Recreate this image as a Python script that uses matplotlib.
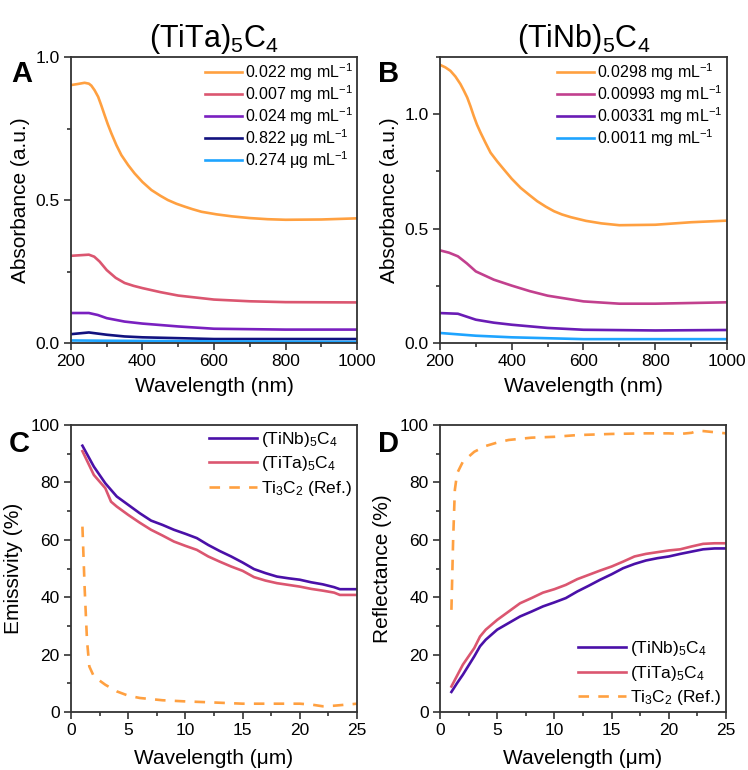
import matplotlib
matplotlib.use("Agg")
import matplotlib.pyplot as plt
from matplotlib.ticker import MultipleLocator

plt.rcParams['font.family'] = ['Liberation Sans', 'DejaVu Sans']
plt.rcParams['mathtext.fontset'] = 'custom'
plt.rcParams['mathtext.rm'] = 'Liberation Sans'
plt.rcParams['mathtext.it'] = 'Liberation Sans:italic'
plt.rcParams['mathtext.bf'] = 'Liberation Sans:bold'

# ---------------- Panel A: (TiTa)5C4 absorbance ----------------
a_orange_x = [200, 220, 238, 250, 257, 266, 276, 285, 294, 303, 313, 327, 341, 360, 378, 400, 425, 450, 471,
              495, 518, 540, 565, 607, 650, 700, 750, 800, 900, 1000]
a_orange_y = [0.902, 0.906, 0.910, 0.907, 0.900, 0.884, 0.861, 0.830, 0.797, 0.765, 0.733, 0.692, 0.657,
              0.622, 0.593, 0.563, 0.535, 0.515, 0.500, 0.487, 0.477, 0.468, 0.459, 0.450, 0.443, 0.437,
              0.433, 0.431, 0.432, 0.436]
a_red_x = [200, 225, 250, 265, 280, 300, 325, 350, 375, 400, 450, 500, 600, 700, 800, 1000]
a_red_y = [0.305, 0.307, 0.309, 0.302, 0.285, 0.255, 0.228, 0.210, 0.200, 0.192, 0.178, 0.166, 0.152,
           0.146, 0.143, 0.142]
a_purple_x = [200, 250, 275, 300, 350, 400, 500, 600, 800, 1000]
a_purple_y = [0.105, 0.105, 0.098, 0.087, 0.075, 0.068, 0.058, 0.050, 0.047, 0.047]
a_navy_x = [200, 250, 300, 350, 400, 600, 1000]
a_navy_y = [0.031, 0.037, 0.029, 0.023, 0.020, 0.014, 0.014]
a_blue_x = [200, 300, 600, 1000]
a_blue_y = [0.009, 0.008, 0.006, 0.004]
a_labels = [r'0.022 mg mL$^{-1}$', r'0.007 mg mL$^{-1}$', r'0.024 mg mL$^{-1}$',
            r'0.822 μg mL$^{-1}$', r'0.274 μg mL$^{-1}$']

# ---------------- Panel B: (TiNb)5C4 absorbance ----------------
b_orange_x = [200, 215, 229, 243, 257, 266, 276, 285, 294, 303, 313, 327, 341, 360, 378, 400, 425, 450, 471,
              495, 518, 540, 565, 607, 650, 700, 800, 900, 1000]
b_orange_y = [1.216, 1.205, 1.190, 1.165, 1.132, 1.105, 1.073, 1.035, 0.993, 0.955, 0.920, 0.875, 0.832,
              0.793, 0.759, 0.718, 0.678, 0.646, 0.620, 0.596, 0.576, 0.562, 0.550, 0.534, 0.523, 0.515,
              0.517, 0.528, 0.535]
b_mag_x = [200, 225, 250, 275, 300, 350, 400, 450, 500, 600, 700, 800, 1000]
b_mag_y = [0.405, 0.395, 0.379, 0.348, 0.313, 0.277, 0.251, 0.227, 0.207, 0.182, 0.172, 0.172, 0.178]
b_purple_x = [200, 250, 300, 350, 400, 500, 600, 800, 1000]
b_purple_y = [0.131, 0.128, 0.102, 0.089, 0.080, 0.066, 0.058, 0.055, 0.057]
b_blue_x = [200, 300, 400, 600, 1000]
b_blue_y = [0.044, 0.032, 0.025, 0.017, 0.017]
b_labels = [r'0.0298 mg mL$^{-1}$', r'0.00993 mg mL$^{-1}$',
            r'0.00331 mg mL$^{-1}$', r'0.0011 mg mL$^{-1}$']

# ---------------- Panel C: emissivity ----------------
c_nb_x = [1, 2, 3, 4, 5, 6, 7, 8, 9, 10, 11, 12, 13, 14, 15, 16, 17, 18, 19, 20, 21, 22, 23, 23.5, 25]
c_nb_y = [92.8, 85.5, 79.7, 75.1, 72.2, 69.3, 66.7, 65.2, 63.5, 62.1, 60.6, 58.2, 56.1, 54.2, 52.1,
          49.8, 48.4, 47.2, 46.6, 46.1, 45.2, 44.5, 43.5, 42.8, 42.8]
c_ta_x = [1, 2, 3, 3.5, 4, 5, 6, 7, 8, 9, 10, 11, 12, 13, 14, 15, 16, 17, 18, 19, 20, 21, 22, 23, 23.5, 25]
c_ta_y = [90.9, 82.6, 78.0, 73.3, 71.6, 68.7, 66.0, 63.5, 61.5, 59.4, 57.9, 56.5, 54.2, 52.4, 50.7,
          49.2, 47.0, 45.8, 44.9, 44.3, 43.7, 42.9, 42.3, 41.6, 40.8, 40.8]
c_ref_x = [1, 1.2, 1.4, 1.6, 2, 3, 4, 5, 6, 8, 10, 12, 15, 18, 20, 21, 22, 23, 25]
c_ref_y = [64.6, 42.6, 25.0, 15.9, 12.4, 9.5, 7.2, 5.7, 4.9, 4.1, 3.7, 3.4, 2.9, 2.9, 2.9, 2.6, 2.0, 2.2, 2.9]

# ---------------- Panel D: reflectance ----------------
d_nb_x = [1, 1.5, 2, 3, 3.5, 4, 5, 6, 7, 8, 9, 10, 11, 12, 13, 14, 15, 16, 17, 18, 19, 20, 21, 22, 23, 24, 25]
d_nb_y = [7.0, 10.1, 13.0, 19.4, 22.9, 25.2, 28.7, 31.0, 33.3, 35.0, 36.8, 38.2, 39.7, 42.0, 44.0, 46.1,
          48.0, 50.1, 51.6, 52.8, 53.6, 54.2, 55.1, 55.9, 56.7, 57.0, 57.0]
d_ta_x = [1, 2, 3, 3.5, 4, 5, 6, 7, 8, 9, 10, 11, 12, 13, 14, 15, 16, 17, 18, 19, 20, 21, 22, 23, 24, 25]
d_ta_y = [8.9, 16.5, 22.3, 26.3, 28.7, 32.1, 35.0, 37.9, 39.7, 41.6, 42.8, 44.3, 46.3, 47.8, 49.3, 50.7,
          52.4, 54.2, 55.1, 55.7, 56.3, 56.7, 57.7, 58.6, 58.8, 58.8]
d_ref_x = [1, 1.15, 1.3, 1.5, 2, 3, 4, 5, 6, 8, 10, 12, 15, 18, 20, 21, 22, 22.5, 23, 25]
d_ref_y = [35.6, 60.0, 77.4, 83.2, 87.2, 90.7, 92.7, 93.9, 94.8, 95.6, 95.9, 96.5, 96.9, 97.1, 97.1,
           96.9, 97.3, 98.0, 97.9, 97.1]

comp_labels = [r'(TiNb)$_5$C$_4$', r'(TiTa)$_5$C$_4$', r'Ti$_3$C$_2$ (Ref.)']

ORANGE = '#FFA040'
RED = '#DB5670'
PURPLE_A = '#7A20C0'
NAVY = '#12127F'
LBLUE = '#1EA4FF'
MAGENTA = '#C2408E'
PURPLE_B = '#6A1CB5'
INDIGO = '#4A10A8'
SPINE = '#333333'
LW = 1.9
DASH = (0, (4, 3.5))

fig = plt.figure(figsize=(7.48, 7.70), dpi=100)
axA = fig.add_axes([0.0949, 0.5545, 0.3824, 0.3714])
axB = fig.add_axes([0.5882, 0.5545, 0.3837, 0.3714])
axC = fig.add_axes([0.0949, 0.0753, 0.3824, 0.3727])
axD = fig.add_axes([0.5882, 0.0753, 0.3824, 0.3727])


def style(ax):
    for s in ax.spines.values():
        s.set_color(SPINE)
        s.set_linewidth(1.3)
    ax.tick_params(which='both', direction='out', color=SPINE, labelsize=12.5,
                   top=False, right=False, width=1.2)
    ax.tick_params(which='major', length=5, pad=3)
    ax.tick_params(which='minor', length=3)


# A
axA.plot(a_orange_x, a_orange_y, color=ORANGE, lw=LW, label=a_labels[0])
axA.plot(a_red_x, a_red_y, color=RED, lw=LW, label=a_labels[1])
axA.plot(a_purple_x, a_purple_y, color=PURPLE_A, lw=LW, label=a_labels[2])
axA.plot(a_navy_x, a_navy_y, color=NAVY, lw=LW, label=a_labels[3])
axA.plot(a_blue_x, a_blue_y, color=LBLUE, lw=LW, label=a_labels[4])
axA.set_xlim(200, 1000)
axA.set_ylim(0, 1.0)
axA.xaxis.set_major_locator(MultipleLocator(200))
axA.xaxis.set_minor_locator(MultipleLocator(100))
axA.yaxis.set_major_locator(MultipleLocator(0.5))
axA.yaxis.set_minor_locator(MultipleLocator(0.25))

# B
axB.plot(b_orange_x, b_orange_y, color=ORANGE, lw=LW, label=b_labels[0])
axB.plot(b_mag_x, b_mag_y, color=MAGENTA, lw=LW, label=b_labels[1])
axB.plot(b_purple_x, b_purple_y, color=PURPLE_B, lw=LW, label=b_labels[2])
axB.plot(b_blue_x, b_blue_y, color=LBLUE, lw=LW, label=b_labels[3])
axB.set_xlim(200, 1000)
axB.set_ylim(0, 1.25)
axB.xaxis.set_major_locator(MultipleLocator(200))
axB.xaxis.set_minor_locator(MultipleLocator(100))
axB.yaxis.set_major_locator(MultipleLocator(0.5))
axB.yaxis.set_minor_locator(MultipleLocator(0.25))

for ax in (axA, axB):
    style(ax)
    ax.set_xlabel('Wavelength (nm)', fontsize=15, labelpad=6)
    ax.set_ylabel('Absorbance (a.u.)', fontsize=15, labelpad=4)
    ax.yaxis.set_major_formatter(matplotlib.ticker.FormatStrFormatter('%.1f'))
    ax.legend(loc='upper right', fontsize=11.5, frameon=False, handlelength=2.3,
              handletextpad=0.2, labelspacing=0.02, borderaxespad=0.05,
              borderpad=0.2)

# C
axC.plot(c_nb_x, c_nb_y, color=INDIGO, lw=LW, label=comp_labels[0])
axC.plot(c_ta_x, c_ta_y, color=RED, lw=LW, label=comp_labels[1])
axC.plot(c_ref_x, c_ref_y, color=ORANGE, lw=LW, ls=DASH, label=comp_labels[2])
axC.set_ylabel('Emissivity (%)', fontsize=15, labelpad=6)
axC.legend(loc='upper right', fontsize=12.5, frameon=False, handlelength=2.8,
           handletextpad=0.2, labelspacing=0.3, borderaxespad=0.1, borderpad=0.2)

# D
axD.plot(d_nb_x, d_nb_y, color=INDIGO, lw=LW, label=comp_labels[0])
axD.plot(d_ta_x, d_ta_y, color=RED, lw=LW, label=comp_labels[1])
axD.plot(d_ref_x, d_ref_y, color=ORANGE, lw=LW, ls=DASH, label=comp_labels[2])
axD.set_ylabel('Reflectance (%)', fontsize=15, labelpad=6)
axD.legend(loc='lower right', fontsize=12.5, frameon=False, handlelength=2.8,
           handletextpad=0.2, labelspacing=0.3, borderaxespad=0.1, borderpad=0.2)

for ax in (axC, axD):
    style(ax)
    ax.set_xlim(0, 25)
    ax.set_ylim(0, 100)
    ax.xaxis.set_major_locator(MultipleLocator(5))
    ax.xaxis.set_minor_locator(MultipleLocator(2.5))
    ax.yaxis.set_major_locator(MultipleLocator(20))
    ax.yaxis.set_minor_locator(MultipleLocator(10))
    ax.set_xlabel('Wavelength (μm)', fontsize=15, labelpad=8)

# Titles and panel letters
fig.text(0.286, 0.950, r'(TiTa)$_5$C$_4$', fontsize=22, ha='center', va='center')
fig.text(0.78, 0.950, r'(TiNb)$_5$C$_4$', fontsize=22, ha='center', va='center')
for x, y, t in [(0.029, 0.904, 'A'), (0.52, 0.904, 'B'), (0.026, 0.424, 'C'), (0.52, 0.424, 'D')]:
    fig.text(x, y, t, fontsize=21, fontweight='bold', ha='center', va='center')

fig.savefig('out.png', dpi=100)
